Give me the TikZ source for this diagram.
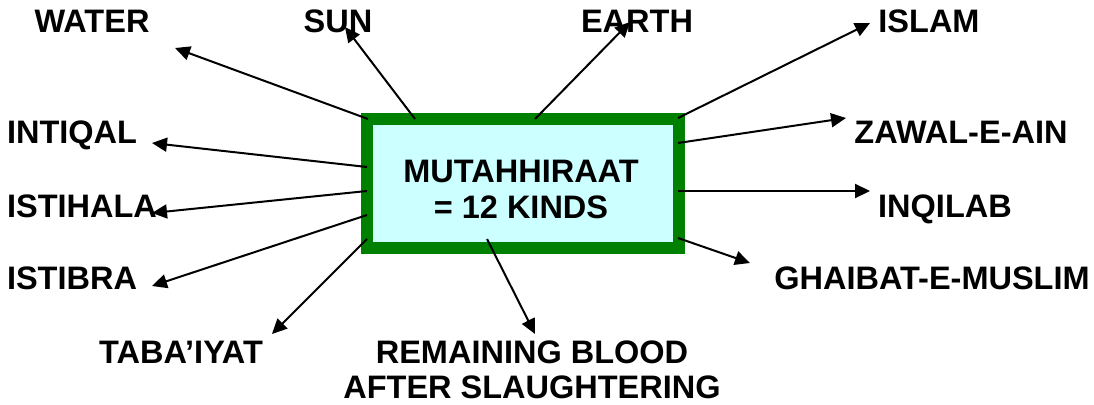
\documentclass[tikz,border=0pt]{standalone}
\usepackage{fontspec}
\setmainfont{Liberation Sans}
\usetikzlibrary{arrows.meta}
\definecolor{boxgreen}{HTML}{008000}
\definecolor{boxcyan}{HTML}{CCFFFF}
\begin{document}
\begin{tikzpicture}[x=1pt,y=-1pt,
  lbl/.style={font=\fontsize{32.5}{35}\selectfont\bfseries, inner sep=0pt, align=center, anchor=base},
  conn/.style={line width=2pt, -{Triangle[length=15pt,width=14pt]}}]
\useasboundingbox (0,0) rectangle (1094,404);
% central box
\draw[draw=boxgreen, fill=boxcyan, line width=12pt] (367,119) rectangle (679,248);
\node[lbl, font=\fontsize{32.5}{36}\selectfont\bfseries] (center) at (521,218) {MUTAHHIRAAT\\= 12 KINDS};
% labels
\node[lbl] (water) at (92,33) {WATER};
\node[lbl] (sun) at (338,33) {SUN};
\node[lbl] (earth) at (637,33) {EARTH};
\node[lbl] (islam) at (929,33) {ISLAM};
\node[lbl] (intiqal) at (72,143) {INTIQAL};
\node[lbl] (zawal) at (961,143) {ZAWAL-E-AIN};
\node[lbl] (istihala) at (82,217) {ISTIHALA};
\node[lbl] (inqilab) at (945,217) {INQILAB};
\node[lbl] (istibra) at (72,289) {ISTIBRA};
\node[lbl] (ghaibat) at (932,289) {GHAIBAT-E-MUSLIM};
\node[lbl] (tabaiyat) at (181,363) {TABA’IYAT};
\node[lbl] (remaining) at (532,398) {REMAINING BLOOD\\AFTER SLAUGHTERING};
% start points on box
\coordinate (sWater) at (368,119);
\coordinate (sSun) at (415,119);
\coordinate (sEarth) at (535,119);
\coordinate (sIslam) at (678,118);
\coordinate (sZawal) at (678,143);
\coordinate (sInqilab) at (678,191);
\coordinate (sGhaibat) at (678,238);
\coordinate (sIntiqal) at (367,167);
\coordinate (sIstihala) at (367,191);
\coordinate (sIstibra) at (367,215);
\coordinate (sTabaiyat) at (367,239);
\coordinate (sRemaining) at (487,239);
% arrow tips
\coordinate (tWater) at (175,48);
\coordinate (tSun) at (345,27);
\coordinate (tEarth) at (630,22);
\coordinate (tIslam) at (870,23);
\coordinate (tZawal) at (846,118);
\coordinate (tInqilab) at (870,191);
\coordinate (tGhaibat) at (750,263);
\coordinate (tIntiqal) at (152,143);
\coordinate (tIstihala) at (152,213);
\coordinate (tIstibra) at (152,286);
\coordinate (tTabaiyat) at (272,334);
\coordinate (tRemaining) at (535,334);
% connectors
\draw[conn] (sWater) -- (tWater);
\draw[conn] (sSun) -- (tSun);
\draw[conn] (sEarth) -- (tEarth);
\draw[conn] (sIslam) -- (tIslam);
\draw[conn] (sZawal) -- (tZawal);
\draw[conn] (sInqilab) -- (tInqilab);
\draw[conn] (sGhaibat) -- (tGhaibat);
\draw[conn] (sIntiqal) -- (tIntiqal);
\draw[conn] (sIstihala) -- (tIstihala);
\draw[conn] (sIstibra) -- (tIstibra);
\draw[conn] (sTabaiyat) -- (tTabaiyat);
\draw[conn] (sRemaining) -- (tRemaining);
\end{tikzpicture}
\end{document}
